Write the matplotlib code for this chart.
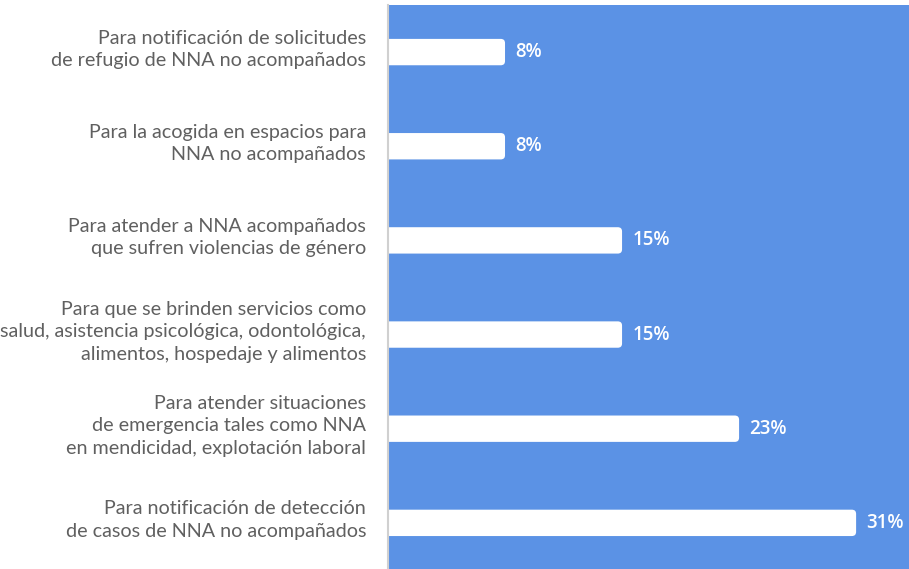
import matplotlib.pyplot as plt
from matplotlib.patches import FancyBboxPatch

#------------------------------------------------------------------------------
# Data
#------------------------------------------------------------------------------

categories = [
    "Para notificación de solicitudes\nde refugio de NNA no acompañados",
    "Para la acogida en espacios para\nNNA no acompañados",
    "Para atender a NNA acompañados\nque sufren violencias de género",
    "Para que se brinden servicios como\nsalud, asistencia psicológica, odontológica,\nalimentos, hospedaje y alimentos",
    "Para atender situaciones\nde emergencia tales como NNA\nen mendicidad, explotación laboral",
    "Para notificación de detección\nde casos de NNA no acompañados",
]

values = [7.7, 7.7, 15.4, 15.4, 23.1, 30.8]
value_labels = ["8%", "8%", "15%", "15%", "23%", "31%"]

#------------------------------------------------------------------------------
# Plot
#------------------------------------------------------------------------------

blue = "#5B92E5"
grey_text = "#606060"

fig = plt.figure(figsize=(9.09, 5.69), dpi=100)
ax = fig.add_axes([388/909, 0, 521/909, 564/569])
ax.set_facecolor(blue)

ax.set_xlim(0, 34.28)
ax.set_ylim(5.49, -0.5)

bar_h = 0.28
for i, v in enumerate(values):
    box = FancyBboxPatch((-1, i - bar_h/2), v + 1, bar_h,
                         boxstyle="round,pad=0,rounding_size=0.28",
                         mutation_aspect=0.16,
                         facecolor="white", edgecolor="none")
    ax.add_patch(box)
    ax.annotate(value_labels[i], xy=(v, i), xytext=(7.5, 0),
                textcoords="offset points", va="center", ha="left",
                color="white", fontsize=13.5, fontfamily="Open Sans",
                fontweight="semibold")
    ax.text(-0.042, i - 0.03, categories[i], transform=ax.get_yaxis_transform(),
            ha="right", va="center", ma="right", color=grey_text,
            fontsize=14.2, fontfamily="Lato", fontweight="normal",
            linespacing=1.38)

ax.set_xticks([])
ax.set_yticks([])
for side in ["top", "right", "bottom"]:
    ax.spines[side].set_visible(False)
ax.spines["left"].set_color("#d0d0d0")
ax.spines["left"].set_linewidth(1.5)

fig.savefig("out.png", dpi=100)
